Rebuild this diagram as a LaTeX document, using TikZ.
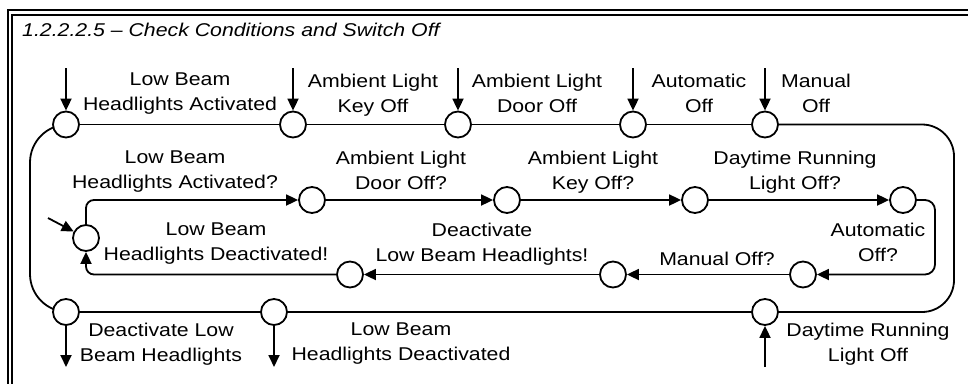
\documentclass[tikz,border=0pt]{standalone}
\usepackage{fontspec}
\setmainfont{Liberation Sans}[FakeStretch=1.15]
\usetikzlibrary{arrows.meta}
\pgfdeclarelayer{paper}
\pgfdeclarelayer{bg}
\pgfsetlayers{paper,bg,main}
\begin{document}
\begin{tikzpicture}[x=1pt,y=-1pt,
  st/.style={circle,draw,fill=white,line width=1.8pt,minimum size=26pt,inner sep=0pt},
  lbl/.style={anchor=north,align=center,inner sep=0pt,font=\fontsize{18.5}{25}\selectfont},
  ttl/.style={anchor=base west,inner sep=0pt,font=\fontsize{18.5}{22}\selectfont\itshape},
  con/.style={line width=1.8pt},
  arr/.style={con,-{Triangle[length=12pt,width=11pt]}},
  frm/.style={line width=1.6pt}]
\useasboundingbox (0,0) rectangle (968,383);
\begin{pgfonlayer}{paper}
\fill[white] (0,0) rectangle (968,383);
\end{pgfonlayer}
\clip (0,0) rectangle (968,383);
% frame
\draw[frm] (8,395) -- (8,10) -- (980,10);
\draw[frm] (12,395) -- (12,15) -- (980,15);
% title
\node[ttl] (title) at (22,36) {1.2.2.2.5 – Check Conditions and Switch Off};
% states
\node[st] (A1) at (66,124.5) {};
\node[st] (A2) at (293,124.5) {};
\node[st] (A3) at (458,124.5) {};
\node[st] (A4) at (633,124.5) {};
\node[st] (A5) at (765,124.5) {};
\node[st] (B1) at (312,200) {};
\node[st] (B2) at (507,200) {};
\node[st] (B3) at (695,200) {};
\node[st] (B4) at (903,200) {};
\node[st] (L) at (86,238) {};
\node[st] (C1) at (803,274.5) {};
\node[st] (C2) at (613,274.5) {};
\node[st] (C3) at (350,274.5) {};
\node[st] (D1) at (66,312) {};
\node[st] (D2) at (274,312) {};
\node[st] (D3) at (765,312) {};
% helper coordinates
\coordinate (TL) at (30,124.5);
\coordinate (BL) at (30,312);
\coordinate (TR) at (954,124.5);
\coordinate (BR) at (954,312);
\coordinate (K1) at (86,200);
\coordinate (K2) at (935,200);
\coordinate (K3) at (935,274.5);
\coordinate (K4) at (86,274.5);
\coordinate (iA1) at (66,68);
\coordinate (iA2) at (293,68);
\coordinate (iA3) at (458,68);
\coordinate (iA4) at (633,68);
\coordinate (iA5) at (765,68);
\coordinate (oD1) at (66,367);
\coordinate (oD2) at (274,367);
\coordinate (iD3) at (765,367);
\coordinate (iL) at (48,218);
% connectors
\begin{pgfonlayer}{bg}
\draw[con] (A1) -- (A2);
\draw[con] (A2) -- (A3);
\draw[con] (A3) -- (A4);
\draw[con] (A4) -- (A5);
\draw[con,rounded corners=32pt] (A5.center) -- (TR) -- (BR) -- (D3.center);
\draw[con] (D3) -- (D2);
\draw[con] (D2) -- (D1);
\draw[con,rounded corners=38pt] (D1.center) -- (BL) -- (TL) -- (A1.center);
\draw[arr] (iA1) -- (A1);
\draw[arr] (iA2) -- (A2);
\draw[arr] (iA3) -- (A3);
\draw[arr] (iA4) -- (A4);
\draw[arr] (iA5) -- (A5);
\draw[arr] (D1) -- (oD1);
\draw[arr] (D2) -- (oD2);
\draw[arr] (iD3) -- (D3);
\draw[arr,rounded corners=8pt] (L) -- (K1) -- (B1);
\draw[arr] (B1) -- (B2);
\draw[arr] (B2) -- (B3);
\draw[arr] (B3) -- (B4);
\draw[arr,rounded corners=10pt] (B4) -- (K2) -- (K3) -- (C1);
\draw[arr] (C1) -- (C2);
\draw[arr] (C2) -- (C3);
\draw[arr,rounded corners=8pt] (C3) -- (K4) -- (L);
\draw[arr] (iL) -- (L);
\end{pgfonlayer}
% labels
\node[lbl] (l1) at (180,73) {Low Beam\\Headlights Activated};
\node[lbl] (l2) at (373,74) {Ambient Light\\Key Off};
\node[lbl] (l3) at (537,74) {Ambient Light\\Door Off};
\node[lbl] (l4) at (699,74) {Automatic\\Off};
\node[lbl] (l5) at (816,74) {Manual\\Off};
\node[lbl] (l6) at (175,150.5) {Low Beam\\Headlights Activated?};
\node[lbl] (l7) at (401,150.5) {Ambient Light\\Door Off?};
\node[lbl] (l8) at (593,150.5) {Ambient Light\\Key Off?};
\node[lbl] (l9) at (795,150.5) {Daytime Running\\Light Off?};
\node[lbl] (l10) at (878,223) {Automatic\\Off?};
\node[lbl] (l11) at (717,252) {Manual Off?};
\node[lbl] (l12) at (216,223) {Low Beam\\Headlights Deactivated!};
\node[lbl] (l13) at (482,223) {Deactivate\\Low Beam Headlights!};
\node[lbl] (l14) at (161,323) {Deactivate Low\\Beam Headlights};
\node[lbl] (l15) at (401,323) {Low Beam\\Headlights Deactivated};
\node[lbl] (l16) at (868,323) {Daytime Running\\Light Off};
\end{tikzpicture}
\end{document}
